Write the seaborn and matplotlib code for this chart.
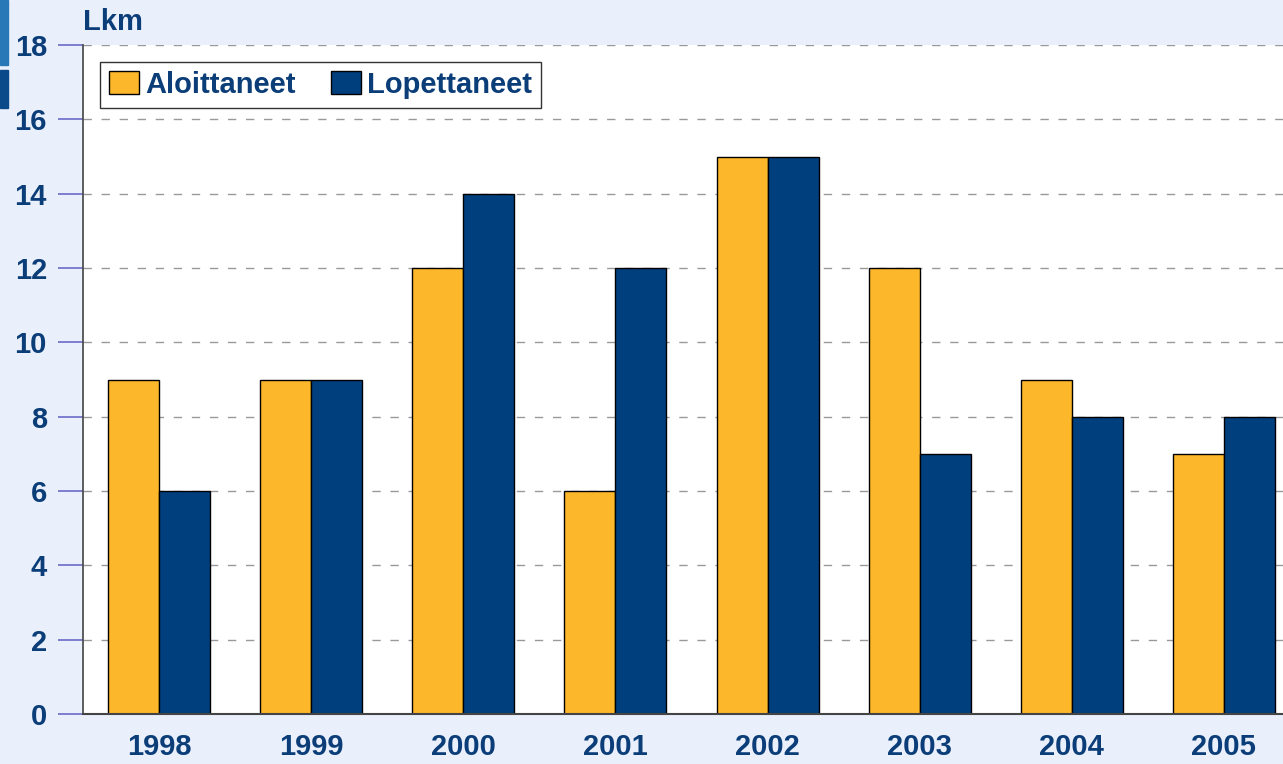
import pandas as pd
import matplotlib.pyplot as plt
import seaborn as sns
from matplotlib.patches import Rectangle

# chart data
years = ['1998', '1999', '2000', '2001', '2002', '2003', '2004', '2005']
aloittaneet = [9, 9, 12, 6, 15, 12, 9, 7]
lopettaneet = [6, 9, 14, 12, 15, 7, 8, 8]
series_names = ['Aloittaneet', 'Lopettaneet']

df = pd.DataFrame({
    'year': years * 2,
    'value': aloittaneet + lopettaneet,
    'series': [series_names[0]] * len(years) + [series_names[1]] * len(years),
})

bg = '#EAF0FB'
txt = '#0B3D78'
palette = {'Aloittaneet': '#FDB72A', 'Lopettaneet': '#003F7D'}

sns.set_style('white')
plt.rcParams['font.family'] = ['Liberation Sans', 'DejaVu Sans']
plt.rcParams['font.weight'] = 'bold'

fig = plt.figure(figsize=(12.83, 7.64), dpi=100, facecolor=bg)
ax = fig.add_axes([83 / 1283, 50 / 764, 1217 / 1283, 669 / 764])
ax.set_facecolor('white')

sns.barplot(data=df, x='year', y='value', hue='series', palette=palette,
            width=0.67, edgecolor='black', linewidth=1, saturation=1, ax=ax)

ax.set_ylim(0, 18)
ax.set_xlim(-0.5, 7.5)
ax.set_yticks(range(0, 19, 2))
ax.yaxis.grid(True, linestyle=(0, (6, 7)), color='#999999', linewidth=1)
ax.set_axisbelow(True)
ax.set_xlabel('')
ax.set_ylabel('')

ax.spines['right'].set_visible(False)
ax.spines['top'].set_visible(False)
ax.spines['left'].set_color('#444444')
ax.spines['bottom'].set_color('#444444')
ax.spines['left'].set_linewidth(1.2)
ax.spines['bottom'].set_linewidth(1.5)

ax.tick_params(axis='y', left=True, direction='out', length=18, width=1.2,
               color='#6A6AC8', labelsize=21, labelcolor=txt, pad=8)
ax.tick_params(axis='x', bottom=False, length=0, labelsize=21, labelcolor=txt, pad=14)
for lab in ax.get_xticklabels() + ax.get_yticklabels():
    lab.set_fontweight('bold')

leg = ax.legend(loc='upper left', bbox_to_anchor=(17 / 1217, 652 / 669),
                ncol=2, frameon=True, fancybox=False, edgecolor='black',
                fontsize=21, handlelength=1.05, handleheight=0.8,
                handletextpad=0.2, columnspacing=1.2, borderpad=0.3,
                borderaxespad=0)
leg.get_frame().set_linewidth(1)
for t in leg.get_texts():
    t.set_color(txt)
    t.set_fontweight('bold')

fig.text(83 / 1283, 1 - 22 / 764, 'Lkm', fontsize=21, fontweight='bold',
         color=txt, ha='left', va='center')

# decorative blocks on left edge
fig.patches.append(Rectangle((0, 1 - 65 / 764), 8 / 1283, 65 / 764,
                             transform=fig.transFigure, color='#2878B8'))
fig.patches.append(Rectangle((0, 1 - 108 / 764), 8 / 1283, 38 / 764,
                             transform=fig.transFigure, color='#0A4A8A'))

fig.savefig('out.png', dpi=100, facecolor=bg)
